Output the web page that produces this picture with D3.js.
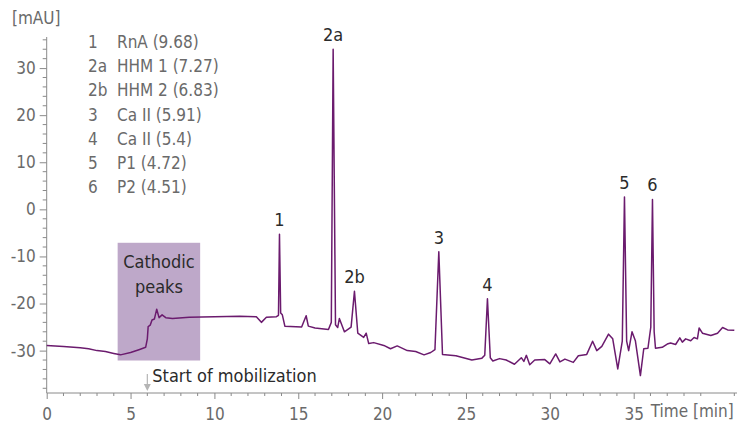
<!DOCTYPE html>
<html>
<head>
<meta charset="utf-8">
<script src="https://cdn.jsdelivr.net/npm/d3@7"></script>
<style>
  body { margin: 0; background: #fff; }
  svg text { font-family: "Liberation Sans Narrow", "DejaVu Sans Condensed", "Roboto", sans-serif; }
  .axis path, .axis line { stroke: #8a8a8a; }
  .axis text { fill: #6a6a6a; font-size: 17px; }
</style>
</head>
<body>
<div id="chart"></div>
<script>
// electropherogram trace, time [min] / signal [mAU]
var times = [0, 1.0, 2.0, 2.5, 3.0, 3.5, 4.0, 4.4, 5.0, 5.5, 5.9, 6.0, 6.05, 6.17, 6.28, 6.42, 6.56, 6.7, 6.88, 7.1,
  7.5, 8.5, 10, 11.5, 12.5, 12.8, 13.1, 13.7, 13.82, 13.88, 13.95, 14.05, 14.2, 15.2, 15.47, 15.6, 16.0, 16.8, 16.97, 17.08,
  17.22, 17.35, 17.45, 17.75, 18.15, 18.35, 18.55, 18.9, 19.05, 19.2, 19.5, 20.1, 20.5, 20.9, 21.5, 22.0, 22.5, 22.9, 23.15, 23.38,
  23.6, 24.4, 25.35, 25.95, 26.12, 26.28, 26.45, 26.6, 27.0, 27.4, 27.89, 28.3, 28.45, 28.6, 28.8, 29.1, 29.7, 30.0, 30.35, 30.6,
  30.9, 31.4, 31.7, 32.2, 32.55, 32.8, 33.1, 33.5, 33.75, 34.05, 34.32, 34.45, 34.58, 34.7, 34.9, 35.1, 35.4, 35.6, 35.85, 36.02,
  36.12, 36.22, 36.3, 36.7, 37.0, 37.2, 37.5, 37.75, 37.9, 38.1, 38.4, 38.6, 38.8, 38.9, 39.1, 39.6, 40.0, 40.3, 40.6, 41.0]
var signal = [-28.9, -29.1, -29.4, -29.6, -30.0, -30.2, -30.6, -30.9, -30.4, -29.8, -29.3, -27.5, -24.9, -24.6, -23.5, -23.3, -21.2, -23.0, -22.4, -23.0,
  -23.2, -22.9, -22.8, -22.7, -22.8, -24.0, -22.9, -22.8, -22.5, -5.3, -22.0, -22.4, -24.8, -25.0, -22.6, -24.8, -25.2, -25.5, -24.0, 34.0,
  -24.5, -25.1, -23.2, -26.0, -25.0, -17.4, -26.3, -27.2, -26.3, -28.5, -28.3, -28.9, -29.6, -29.0, -30.0, -30.2, -30.9, -30.4, -29.8, -9.0,
  -30.8, -31.1, -32.0, -31.6, -31.0, -19.0, -31.5, -32.2, -31.7, -32.0, -32.9, -31.5, -32.3, -31.0, -33.0, -32.0, -31.9, -32.8, -30.7, -32.4,
  -31.8, -32.5, -31.1, -30.8, -28.0, -30.0, -29.1, -26.5, -27.5, -33.9, -28.0, 2.6, -28.0, -30.0, -26.0, -27.9, -35.3, -29.6, -29.5, -25.0,
  2.1, -26.0, -29.5, -29.3, -28.6, -28.4, -28.7, -27.3, -28.2, -27.5, -27.9, -27.2, -27.5, -25.2, -26.3, -26.8, -26.3, -25.1, -25.6, -25.7]

// peak labels
var peakNames = ["1", "2a", "2b", "3", "4", "5", "6"]
var peakTimes = [13.88, 17.08, 18.35, 23.38, 26.28, 34.45, 36.12]
var peakValues = [-5.3, 34.0, -17.4, -9.0, -19.0, 2.6, 2.1]

// legend
var legendNums = ["1", "2a", "2b", "3", "4", "5", "6"]
var legendText = ["RnA (9.68)", "HHM 1 (7.27)", "HHM 2 (6.83)", "Ca II (5.91)", "Ca II (5.4)", "P1 (4.72)", "P2 (4.51)"]

// axes
var xDomain = [0, 41.16]
var yDomain = [-39, 36.6]
var xMajor = [0, 5, 10, 15, 20, 25, 30, 35]
var yMajor = [-30, -20, -10, 0, 10, 20, 30]

// cathodic region
var cathodicBox = {t0: 4.23, t1: 9.15, v0: -7.1, v1: -32.1}
var mobilizationTime = 6.0

var width = 741, height = 426
var margin = {left: 46.7, right: 4, top: 37, bottom: 33}

var svg = d3.select('#chart').append('svg')
  .attr('width', width).attr('height', height)

var x = d3.scaleLinear().domain(xDomain).range([margin.left, width - margin.right])
var y = d3.scaleLinear().domain(yDomain).range([height - margin.bottom, margin.top])

// box behind the trace
svg.append('rect')
  .attr('x', x(cathodicBox.t0))
  .attr('y', y(cathodicBox.v0))
  .attr('width', x(cathodicBox.t1) - x(cathodicBox.t0))
  .attr('height', y(cathodicBox.v1) - y(cathodicBox.v0))
  .attr('fill', '#bea8c9')

svg.append('text')
  .attr('x', (x(cathodicBox.t0) + x(cathodicBox.t1)) / 2)
  .attr('y', y(cathodicBox.v0) + 25)
  .attr('text-anchor', 'middle')
  .attr('fill', '#2b2b2b').style('font-size', '18px')
  .text('Cathodic')
svg.append('text')
  .attr('x', (x(cathodicBox.t0) + x(cathodicBox.t1)) / 2)
  .attr('y', y(cathodicBox.v0) + 50)
  .attr('text-anchor', 'middle')
  .attr('fill', '#2b2b2b').style('font-size', '18px')
  .text('peaks')

// x axis
var xMinor = d3.range(0, 42, 1).filter(function(d) { return d % 5 != 0 })
var xAxisG = svg.append('g').attr('class', 'axis')
  .attr('transform', 'translate(0,' + (height - margin.bottom) + ')')
xAxisG.call(d3.axisBottom(x).tickValues(xMajor).tickSize(6).tickPadding(5).tickFormat(d3.format('d')))
xAxisG.select('.domain').attr('d', 'M' + x(xDomain[0]) + ',0H' + x(xDomain[1]))
xAxisG.selectAll('.minor').data(xMinor).enter().append('line')
  .attr('x1', function(d) { return x(d) }).attr('x2', function(d) { return x(d) })
  .attr('y1', 0).attr('y2', 3).attr('stroke', '#8a8a8a')
xAxisG.selectAll('text').attr('dy', '0.95em')

svg.append('text')
  .attr('x', x(35) + 17).attr('y', height - margin.bottom + 24)
  .attr('fill', '#6a6a6a').style('font-size', '17px')
  .text('Time [min]')

// y axis
var yMinor = d3.range(-38, 37, 2).filter(function(d) { return d % 10 != 0 })
var yAxisG = svg.append('g').attr('class', 'axis')
  .attr('transform', 'translate(' + margin.left + ',0)')
yAxisG.call(d3.axisLeft(y).tickValues(yMajor).tickSize(7).tickPadding(4).tickFormat(function(d) { return d < 0 ? '-' + Math.abs(d) : d }))
yAxisG.select('.domain').attr('d', 'M0,' + y(yDomain[0]) + 'V' + y(yDomain[1]))
yAxisG.selectAll('.minor').data(yMinor).enter().append('line')
  .attr('y1', function(d) { return y(d) }).attr('y2', function(d) { return y(d) })
  .attr('x1', -4).attr('x2', 0).attr('stroke', '#8a8a8a')

svg.append('text')
  .attr('x', 12).attr('y', 24)
  .attr('fill', '#6a6a6a').style('font-size', '17px')
  .text('[mAU]')

// trace
var data = times.map(function(t, i) { return {t: t, v: signal[i]} })
var line = d3.line().x(function(d) { return x(d.t) }).y(function(d) { return y(d.v) })
svg.append('path')
  .attr('d', line(data))
  .attr('fill', 'none')
  .attr('stroke', '#6b1b6e')
  .attr('stroke-width', 1.5)
  .attr('stroke-linejoin', 'round')

// peak labels
peakNames.forEach(function(n, i) {
  svg.append('text')
    .attr('x', x(peakTimes[i]))
    .attr('y', y(peakValues[i]) - 8)
    .attr('text-anchor', 'middle')
    .attr('fill', '#2b2b2b').style('font-size', '18px')
    .text(n)
})

// start of mobilization marker
svg.append('line')
  .attr('x1', x(mobilizationTime)).attr('x2', x(mobilizationTime))
  .attr('y1', height - margin.bottom - 19).attr('y2', height - margin.bottom - 5)
  .attr('stroke', '#b5b5b5').attr('stroke-width', 1.2)
svg.append('path')
  .attr('d', 'M' + (x(mobilizationTime) - 3.5) + ',' + (height - margin.bottom - 9) +
    'L' + x(mobilizationTime) + ',' + (height - margin.bottom - 2) +
    'L' + (x(mobilizationTime) + 3.5) + ',' + (height - margin.bottom - 9) + 'Z')
  .attr('fill', '#b5b5b5')
svg.append('text')
  .attr('x', x(mobilizationTime) + 5).attr('y', height - margin.bottom - 11)
  .attr('fill', '#2b2b2b').style('font-size', '18px')
  .text('Start of mobilization')

// legend
legendNums.forEach(function(n, i) {
  var ly = 48 + i * 24.2
  svg.append('text').attr('x', 88).attr('y', ly)
    .attr('fill', '#6a6a6a').style('font-size', '17px').text(n)
  svg.append('text').attr('x', 117).attr('y', ly)
    .attr('fill', '#6a6a6a').style('font-size', '17px').text(legendText[i])
})
</script>
</body>
</html>
